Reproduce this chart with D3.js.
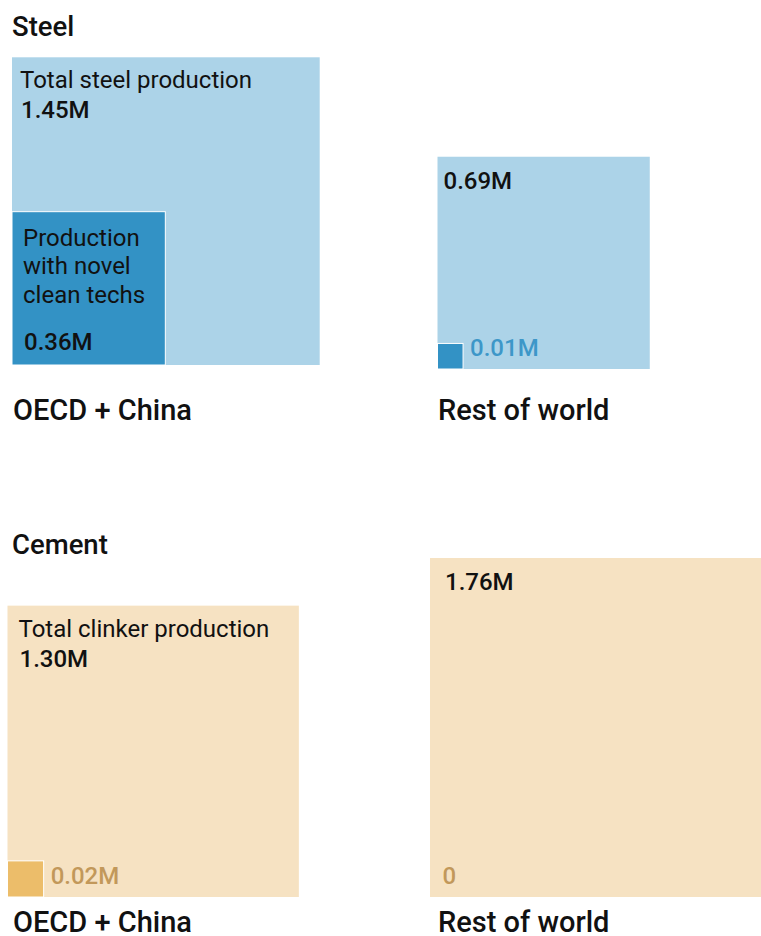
<!DOCTYPE html>
<html>
<head>
<meta charset="utf-8">
<script src="https://cdn.jsdelivr.net/npm/d3@7"></script>
<style>
  html, body { margin: 0; padding: 0; background: #fff; overflow: hidden; }
  svg { display: block; font-family: Roboto, "Noto Sans", sans-serif; }
</style>
</head>
<body>
<svg id="chart" width="761" height="936"></svg>
<script>
// Production volumes in millions of tonnes
const materials = ["Steel", "Cement"];
const regions = ["OECD + China", "Rest of world"];
const totalValues = [[1.45, 0.69], [1.30, 1.76]];
const cleanValues = [[0.36, 0.01], [0.02, 0]];
const totalLabels = ["Total steel production", "Total clinker production"];
const cleanLabel = ["Production", "with novel", "clean techs"];

const palette = {
  Steel:  { total: "#acd3e8", clean: "#3392c5", note: "#3d97c8" },
  Cement: { total: "#f6e2c2", clean: "#ecbd6a", note: "#c2985a" }
};

// Bottom-left corner of each square, value inset, and title placement
const panelLayout = [
  { titleY: 36, captionY: 420,
    anchors: [{ x: 12, y: 365, inset: 9 }, { x: 437.5, y: 369, inset: 6 }] },
  { titleY: 554, captionY: 931.5,
    anchors: [{ x: 7.5, y: 897, inset: 12 }, { x: 430, y: 897, inset: 15 }] }
];

const fmt = v => v === 0 ? "0" : d3.format(".2f")(v) + "M";

// Square area is proportional to value
const side = d3.scaleSqrt().domain([0, 1.76]).range([0, 339]);

const svg = d3.select("#chart");
const LABEL = 24, VALUE = 24, TITLE = 27.5, CAPTION = 29;

materials.forEach((mat, mi) => {
  const layout = panelLayout[mi];
  const col = palette[mat];
  const g = svg.append("g");

  g.append("text")
    .attr("x", 12).attr("y", layout.titleY)
    .attr("font-size", TITLE).attr("font-weight", 500).attr("fill", "#111")
    .text(mat);

  regions.forEach((reg, ri) => {
    const a = layout.anchors[ri];
    const tv = totalValues[mi][ri];
    const cv = cleanValues[mi][ri];
    const ts = side(tv);
    const cs = side(cv);
    const top = a.y - ts;

    g.append("rect")
      .attr("x", a.x).attr("y", top)
      .attr("width", ts).attr("height", ts)
      .attr("fill", col.total);

    if (cs > 0) {
      g.append("rect")
        .attr("x", a.x).attr("y", a.y - cs)
        .attr("width", cs).attr("height", cs)
        .attr("fill", col.clean)
        .attr("stroke", "#fff").attr("stroke-width", 1);
    }

    // Total value (with label for the first region)
    if (ri === 0) {
      g.append("text")
        .attr("x", a.x + a.inset - 1).attr("y", top + 31)
        .attr("font-size", LABEL).attr("font-weight", 400).attr("fill", "#111")
        .text(totalLabels[mi]);
      g.append("text")
        .attr("x", a.x + a.inset).attr("y", top + 61)
        .attr("font-size", VALUE).attr("font-weight", 500).attr("fill", "#111")
        .text(fmt(tv));
    } else {
      g.append("text")
        .attr("x", a.x + a.inset).attr("y", top + 32)
        .attr("font-size", VALUE).attr("font-weight", 500).attr("fill", "#111")
        .text(fmt(tv));
    }

    // Clean-tech value: inside the inner square when it is large, beside it otherwise
    if (cs > 120) {
      const it = a.y - cs;
      const t = g.append("text")
        .attr("font-size", LABEL).attr("font-weight", 400).attr("fill", "#111");
      cleanLabel.forEach((line, li) => {
        t.append("tspan").attr("x", a.x + 11).attr("y", it + 34 + li * 28.5).text(line);
      });
      g.append("text")
        .attr("x", a.x + 12).attr("y", a.y - 15)
        .attr("font-size", VALUE).attr("font-weight", 500).attr("fill", "#111")
        .text(fmt(cv));
    } else {
      g.append("text")
        .attr("x", a.x + Math.max(cs + 7, 12.5)).attr("y", a.y - 13)
        .attr("font-size", VALUE).attr("font-weight", 500).attr("fill", col.note)
        .text(fmt(cv));
    }

    g.append("text")
      .attr("x", ri === 0 ? 13 : 438).attr("y", layout.captionY)
      .attr("font-size", CAPTION).attr("font-weight", 500).attr("fill", "#111")
      .text(reg);
  });
});
</script>
</body>
</html>
